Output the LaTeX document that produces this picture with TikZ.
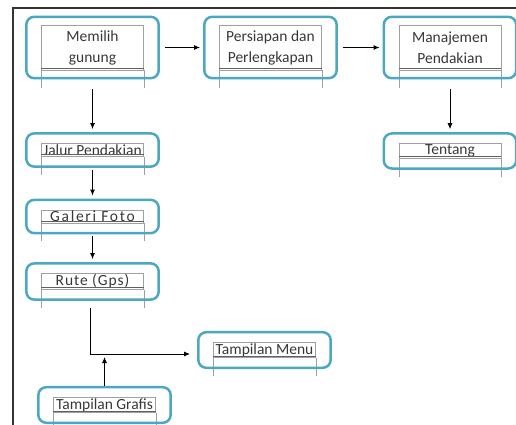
\documentclass[tikz,border=0pt]{standalone}
\usepackage{fontspec}
\setmainfont{Carlito}
\usepackage{tikz}
\usetikzlibrary{arrows.meta,fit,calc}
\definecolor{boxteal}{RGB}{75,168,192}
\definecolor{framegray}{RGB}{160,160,160}
\definecolor{textgray}{RGB}{55,55,55}

\begin{document}
\begin{tikzpicture}[x=1pt,y=-1pt,
  textframe/.style={draw=framegray, line width=0.4pt, minimum width=102pt, inner xsep=0pt, inner ysep=1pt, align=center, text=textgray, font=\fontsize{15.5}{21}\selectfont},
  menubox/.style={draw=boxteal, line width=2.5pt, rounded corners=8pt, inner xsep=15pt, inner ysep=10pt},
  arr/.style={-{Latex[length=6pt,width=5pt]}, line width=0.9pt, shorten >=3pt}]
\useasboundingbox (0,0) rectangle (516,425);
\draw[line width=1.5pt, black!80] (13,425) -- (13,8) -- (516,8);

\node[textframe, minimum height=45pt] (gunungT) at (92.5,47.5) {Memilih\\gunung};
\node[textframe, minimum height=45pt] (persiapanT) at (270.5,47.5) {Persiapan dan\\Perlengkapan};
\node[textframe, minimum height=45pt] (manajemenT) at (450,47.5) {Manajemen\\Pendakian};
\node[textframe] (jalurT) at (92.5,150) {Jalur Pendakian};
\node[textframe] (galeriT) at (92.5,216.5) {\addfontfeature{LetterSpace=11}Galeri Foto};
\node[textframe] (ruteT) at (92.5,281.5) {\addfontfeature{LetterSpace=6}Rute (Gps)};
\node[textframe] (menuT) at (264.5,350) {Tampilan Menu};
\node[textframe] (grafisT) at (104.5,405) {Tampilan Grafis};
\node[textframe] (tentangT) at (450,151) {Tentang};

\foreach \f in {gunungT,persiapanT,manajemenT,jalurT,galeriT,ruteT,menuT,grafisT,tentangT} {
  \draw[framegray, line width=0.4pt] (\f.south west) -- ++(0,18) (\f.south east) -- ++(0,18);
  \draw[framegray!60!black, line width=0.5pt] ([yshift=2pt]\f.south west) -- ([yshift=2pt]\f.south east);
}

\node[menubox, inner ysep=8pt, fit=(gunungT)] (gunung) {};
\node[menubox, inner ysep=8pt, fit=(persiapanT)] (persiapan) {};
\node[menubox, inner ysep=8pt, fit=(manajemenT)] (manajemen) {};
\node[menubox, fit=(jalurT)] (jalur) {};
\node[menubox, fit=(galeriT)] (galeri) {};
\node[menubox, fit=(ruteT)] (rute) {};
\node[menubox, fit=(menuT)] (menu) {};
\node[menubox, fit=(grafisT)] (grafis) {};
\node[menubox, fit=(tentangT)] (tentang) {};

\coordinate (join) at (105,354);
\draw[arr, shorten <=5pt] (gunung) -- (persiapan);
\draw[arr, shorten <=5pt] (persiapan) -- (manajemen);
\draw[arr, shorten <=10pt] (gunung) -- (jalur);
\draw[arr, shorten <=10pt] (manajemen) -- (tentang);
\draw[arr, shorten <=2pt] (jalur) -- (galeri);
\draw[arr, shorten <=2pt] (galeri) -- (rute);
\draw[arr, shorten <=7pt, shorten >=7pt] ([xshift=-2.5pt]rute.south) |- ([yshift=-4pt]menu.west);
\draw[arr] (grafis.north) -- (grafis.north |- join);
\end{tikzpicture}
\end{document}
